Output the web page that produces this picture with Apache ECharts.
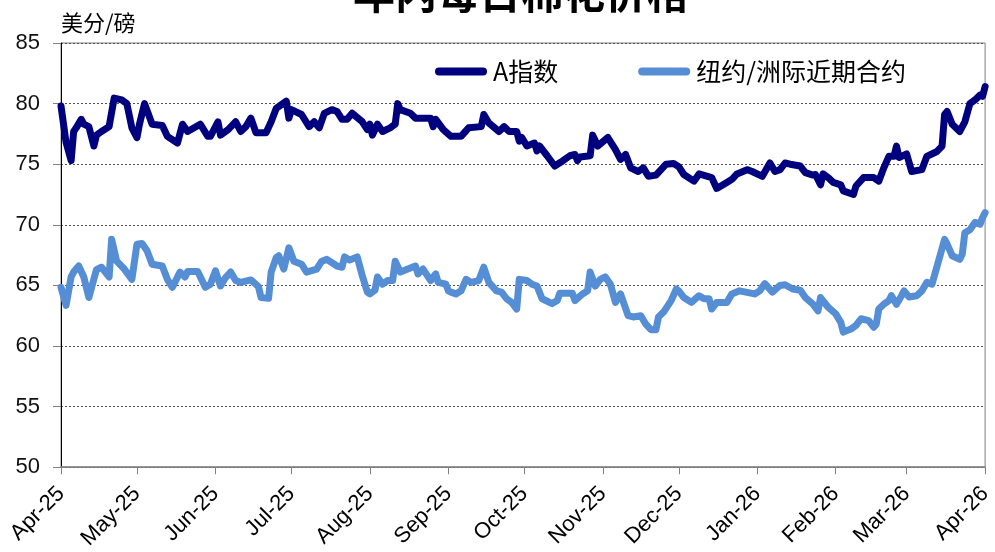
<!DOCTYPE html>
<html>
<head>
<meta charset="utf-8">
<title>年内每日棉花价格</title>
<script src="https://cdn.jsdelivr.net/npm/echarts@6/dist/echarts.min.js"></script>
<style>
  html, body { margin: 0; padding: 0; background: #fff; }
  #main { width: 995px; height: 552px; }
</style>
</head>
<body>
<div id="main"></div>
<script type="text/javascript">
    // A指数 (美分/磅)
    var aDates = ['2025-04-01','2025-04-03','2025-04-05','2025-04-06','2025-04-07','2025-04-09','2025-04-10','2025-04-12','2025-04-14','2025-04-15',
        '2025-04-17','2025-04-20','2025-04-22','2025-04-25','2025-04-27','2025-04-29','2025-05-01','2025-05-02','2025-05-04','2025-05-07',
        '2025-05-11','2025-05-13','2025-05-17','2025-05-19','2025-05-21','2025-05-26','2025-05-29','2025-05-30','2025-06-02','2025-06-03',
        '2025-06-06','2025-06-09','2025-06-11','2025-06-13','2025-06-15','2025-06-17','2025-06-21','2025-06-23','2025-06-25','2025-06-29',
        '2025-06-30','2025-07-01','2025-07-05','2025-07-08','2025-07-10','2025-07-12','2025-07-14','2025-07-17','2025-07-19','2025-07-21',
        '2025-07-23','2025-07-25','2025-07-29','2025-07-31','2025-08-01','2025-08-02','2025-08-04','2025-08-06','2025-08-09','2025-08-11',
        '2025-08-12','2025-08-13','2025-08-17','2025-08-19','2025-08-25','2025-08-26','2025-08-27','2025-08-30','2025-09-02','2025-09-06',
        '2025-09-09','2025-09-14','2025-09-15','2025-09-17','2025-09-21','2025-09-23','2025-09-25','2025-09-28','2025-09-29','2025-09-30',
        '2025-10-02','2025-10-05','2025-10-06','2025-10-07','2025-10-10','2025-10-13','2025-10-16','2025-10-19','2025-10-21','2025-10-22',
        '2025-10-23','2025-10-27','2025-10-28','2025-10-30','2025-11-03','2025-11-06','2025-11-08','2025-11-10','2025-11-12','2025-11-15',
        '2025-11-17','2025-11-19','2025-11-22','2025-11-26','2025-11-29','2025-12-01','2025-12-03','2025-12-07','2025-12-09','2025-12-14',
        '2025-12-16','2025-12-20','2025-12-22','2025-12-24','2025-12-28','2025-12-30','2026-01-03','2026-01-06','2026-01-08','2026-01-10',
        '2026-01-12','2026-01-14','2026-01-18','2026-01-20','2026-01-23','2026-01-24','2026-01-26','2026-01-27','2026-01-29','2026-01-31',
        '2026-02-03','2026-02-04','2026-02-08','2026-02-09','2026-02-12','2026-02-16','2026-02-18','2026-02-20','2026-02-22','2026-02-24',
        '2026-02-25','2026-02-26','2026-03-01','2026-03-03','2026-03-07','2026-03-09','2026-03-13','2026-03-15','2026-03-16','2026-03-17',
        '2026-03-19','2026-03-22','2026-03-24','2026-03-26','2026-03-28','2026-03-30','2026-03-31','2026-04-01'];
    var aValues = [79.8,76.8,75.3,77.7,78.0,78.7,78.3,78.1,76.5,77.4,
        77.7,78.1,80.45,80.3,80.0,78.0,77.2,78.3,80.0,78.3,
        78.2,77.3,76.75,78.3,77.7,78.3,77.3,77.3,78.5,77.4,
        77.85,78.5,77.7,78.1,78.8,77.6,77.6,78.5,79.6,80.2,
        78.8,79.5,79.1,78.1,78.5,78.0,79.2,79.5,79.35,78.7,
        78.7,79.2,78.5,77.85,78.3,77.4,78.3,77.7,78.0,78.3,
        80.0,79.5,79.2,78.8,78.8,78.1,78.7,77.85,77.3,77.3,
        78.0,78.1,79.1,78.4,77.7,78.1,77.7,77.7,76.9,77.2,
        76.5,76.75,76.1,76.5,75.7,74.85,75.25,75.7,75.8,75.3,
        75.6,75.7,77.4,76.5,77.2,76.2,75.4,75.8,74.7,74.4,
        74.7,74.0,74.1,75.0,75.05,74.8,74.15,73.6,74.2,73.9,
        73.0,73.5,73.75,74.2,74.55,74.4,74.0,75.1,74.4,74.55,
        75.1,75.0,74.85,74.3,74.1,74.15,73.3,74.2,73.9,73.5,
        73.3,72.8,72.5,73.2,73.9,73.9,73.6,74.7,75.65,75.65,
        76.5,75.55,75.85,74.4,74.55,75.65,76.05,76.5,79.1,79.35,
        78.3,77.7,78.5,80.0,80.3,80.7,80.6,81.4];

    // 纽约/洲际近期合约 (美分/磅)
    var nyDates = ['2025-04-01','2025-04-03','2025-04-05','2025-04-06','2025-04-08','2025-04-10','2025-04-12','2025-04-15','2025-04-17','2025-04-20',
        '2025-04-21','2025-04-23','2025-04-26','2025-04-29','2025-05-01','2025-05-03','2025-05-05','2025-05-07','2025-05-11','2025-05-13',
        '2025-05-15','2025-05-18','2025-05-20','2025-05-21','2025-05-25','2025-05-28','2025-05-30','2025-06-01','2025-06-03','2025-06-05',
        '2025-06-07','2025-06-09','2025-06-11','2025-06-15','2025-06-18','2025-06-19','2025-06-22','2025-06-23','2025-06-25','2025-06-26',
        '2025-06-28','2025-06-30','2025-07-02','2025-07-05','2025-07-07','2025-07-11','2025-07-13','2025-07-15','2025-07-19','2025-07-21',
        '2025-07-22','2025-07-24','2025-07-27','2025-07-29','2025-07-31','2025-08-01','2025-08-03','2025-08-04','2025-08-06','2025-08-08',
        '2025-08-10','2025-08-11','2025-08-13','2025-08-16','2025-08-19','2025-08-20','2025-08-22','2025-08-25','2025-08-27','2025-08-28',
        '2025-08-31','2025-09-01','2025-09-02','2025-09-04','2025-09-06','2025-09-08','2025-09-10','2025-09-13','2025-09-15','2025-09-17',
        '2025-09-20','2025-09-22','2025-09-24','2025-09-26','2025-09-28','2025-09-29','2025-10-02','2025-10-04','2025-10-06','2025-10-08',
        '2025-10-12','2025-10-14','2025-10-15','2025-10-20','2025-10-21','2025-10-24','2025-10-26','2025-10-27','2025-10-29','2025-10-31',
        '2025-11-02','2025-11-04','2025-11-06','2025-11-08','2025-11-11','2025-11-13','2025-11-16','2025-11-18','2025-11-20','2025-11-22',
        '2025-11-23','2025-11-25','2025-11-28','2025-11-30','2025-12-01','2025-12-03','2025-12-06','2025-12-09','2025-12-11','2025-12-13',
        '2025-12-14','2025-12-16','2025-12-20','2025-12-22','2025-12-25','2025-12-31','2026-01-02','2026-01-04','2026-01-07','2026-01-10',
        '2026-01-12','2026-01-15','2026-01-18','2026-01-20','2026-01-23','2026-01-25','2026-01-26','2026-01-29','2026-02-01','2026-02-03',
        '2026-02-04','2026-02-07','2026-02-09','2026-02-11','2026-02-14','2026-02-16','2026-02-17','2026-02-18','2026-02-20','2026-02-22',
        '2026-02-23','2026-02-25','2026-02-27','2026-02-28','2026-03-02','2026-03-05','2026-03-07','2026-03-09','2026-03-11','2026-03-14',
        '2026-03-16','2026-03-17','2026-03-19','2026-03-22','2026-03-23','2026-03-24','2026-03-26','2026-03-28','2026-03-30','2026-03-31',
        '2026-04-01'];
    var nyValues = [64.85,63.35,65.7,66.1,66.6,65.7,64.0,66.3,66.5,65.7,
        68.8,67.0,66.35,65.5,68.4,68.45,67.85,66.75,66.6,65.5,
        64.85,66.1,65.7,66.15,66.15,64.85,65.1,66.2,64.95,65.65,
        66.1,65.4,65.25,65.45,64.9,64.0,63.95,66.1,67.3,67.45,
        66.35,68.1,67.0,66.75,66.1,66.35,67.0,67.15,66.6,66.5,
        67.35,67.1,67.35,65.8,64.45,64.3,64.6,65.7,65.1,65.4,
        65.4,67.0,66.1,66.35,66.6,65.95,66.35,65.4,65.95,65.25,
        65.1,64.55,64.45,64.3,64.55,65.5,65.25,65.4,66.5,65.25,
        64.55,64.45,63.9,63.6,63.05,65.5,65.4,65.1,64.95,63.9,
        63.5,63.75,64.35,64.35,63.75,64.3,64.55,66.1,64.95,65.5,
        65.7,65.1,63.6,64.3,62.5,62.4,62.5,61.8,61.35,61.35,
        62.4,62.8,63.75,64.7,64.55,64.0,63.6,64.15,63.9,63.9,
        63.05,63.6,63.6,64.3,64.55,64.3,64.55,65.15,64.45,65.0,
        65.05,64.7,64.6,64.0,63.45,62.9,64.0,63.2,62.65,61.95,
        61.15,61.4,61.7,62.25,62.1,61.55,61.8,63.05,63.45,63.75,
        64.15,63.45,64.15,64.55,64.05,64.15,64.55,65.25,65.1,67.3,
        68.8,68.4,67.45,67.15,67.6,69.35,69.6,70.2,70.05,70.6,
        71.0];

    var monthNames = ['Jan','Feb','Mar','Apr','May','Jun','Jul','Aug','Sep','Oct','Nov','Dec'];
    var yTicks = [50, 55, 60, 65, 70, 75, 80, 85];

    function pairUp(dates, values) {
        var out = [];
        for (var i = 0; i < dates.length; i++) {
            out.push([dates[i], values[i]]);
        }
        return out;
    }

    var chart = echarts.init(document.getElementById('main'));
    var fontLatin = '"Liberation Sans", Arial, "Noto Sans CJK SC", sans-serif';
    var fontCjk = '"Noto Sans CJK SC", sans-serif';
    // 图例用的圆头粗线
    var pillIcon = 'path://M4,0 H48 A4,4 0 0 1 48,8 H4 A4,4 0 0 1 4,0 Z';

    var option = {
        animation: false,
        title: {
            text: '年内每日棉花价格',
            left: 348,
            top: -33,
            textStyle: { fontSize: 42, fontWeight: 'bold', color: '#000', fontFamily: fontCjk }
        },
        legend: {
            left: 430,
            top: 54,
            itemWidth: 54,
            itemHeight: 8,
            itemGap: 80,
            icon: pillIcon,
            textStyle: { fontSize: 25, color: '#000', fontFamily: fontCjk },
            data: ['A指数', '纽约/洲际近期合约']
        },
        grid: {
            left: 61,
            right: 7,
            top: 43,
            bottom: 83,
            show: true,
            borderColor: '#808080',
            borderWidth: 1
        },
        xAxis: {
            type: 'time',
            min: '2025-04-01',
            max: '2026-04-01',
            minInterval: 28 * 24 * 3600 * 1000,
            maxInterval: 31 * 24 * 3600 * 1000,
            splitNumber: 12,
            axisLine: { lineStyle: { color: '#808080', width: 1.5 } },
            axisTick: { show: true, length: 7, lineStyle: { color: '#808080' } },
            splitLine: { show: false },
            axisLabel: {
                rotate: 45,
                fontSize: 22,
                color: '#000',
                margin: 23,
                showMaxLabel: true,
                fontFamily: fontLatin,
                formatter: function (v) {
                    var d = new Date(v);
                    return monthNames[d.getMonth()] + '-' + String(d.getFullYear()).slice(2);
                }
            }
        },
        yAxis: {
            type: 'value',
            min: yTicks[0],
            max: yTicks[yTicks.length - 1],
            interval: 5,
            name: '美分/磅',
            nameLocation: 'end',
            nameGap: 20,
            nameTextStyle: { fontSize: 22, color: '#000', align: 'left', verticalAlign: 'middle', fontFamily: fontCjk },
            axisLine: { show: true, lineStyle: { color: '#000', width: 1 } },
            axisTick: { show: true, length: 8, lineStyle: { color: '#808080' } },
            axisLabel: { fontSize: 22, color: '#111', margin: 21, fontFamily: fontLatin },
            splitLine: { show: true, lineStyle: { color: '#555', type: [2, 2], width: 1 } }
        },
        series: [
            {
                name: 'A指数',
                type: 'line',
                data: pairUp(aDates, aValues),
                showSymbol: false,
                symbol: 'none',
                lineStyle: { color: '#00007f', width: 7, cap: 'round', join: 'round' },
                itemStyle: { color: '#00007f' },
                z: 3
            },
            {
                name: '纽约/洲际近期合约',
                type: 'line',
                data: pairUp(nyDates, nyValues),
                showSymbol: false,
                symbol: 'none',
                lineStyle: { color: '#558ed5', width: 7, cap: 'round', join: 'round' },
                itemStyle: { color: '#558ed5' },
                z: 2
            }
        ]
    };
    chart.setOption(option);
</script>
</body>
</html>
